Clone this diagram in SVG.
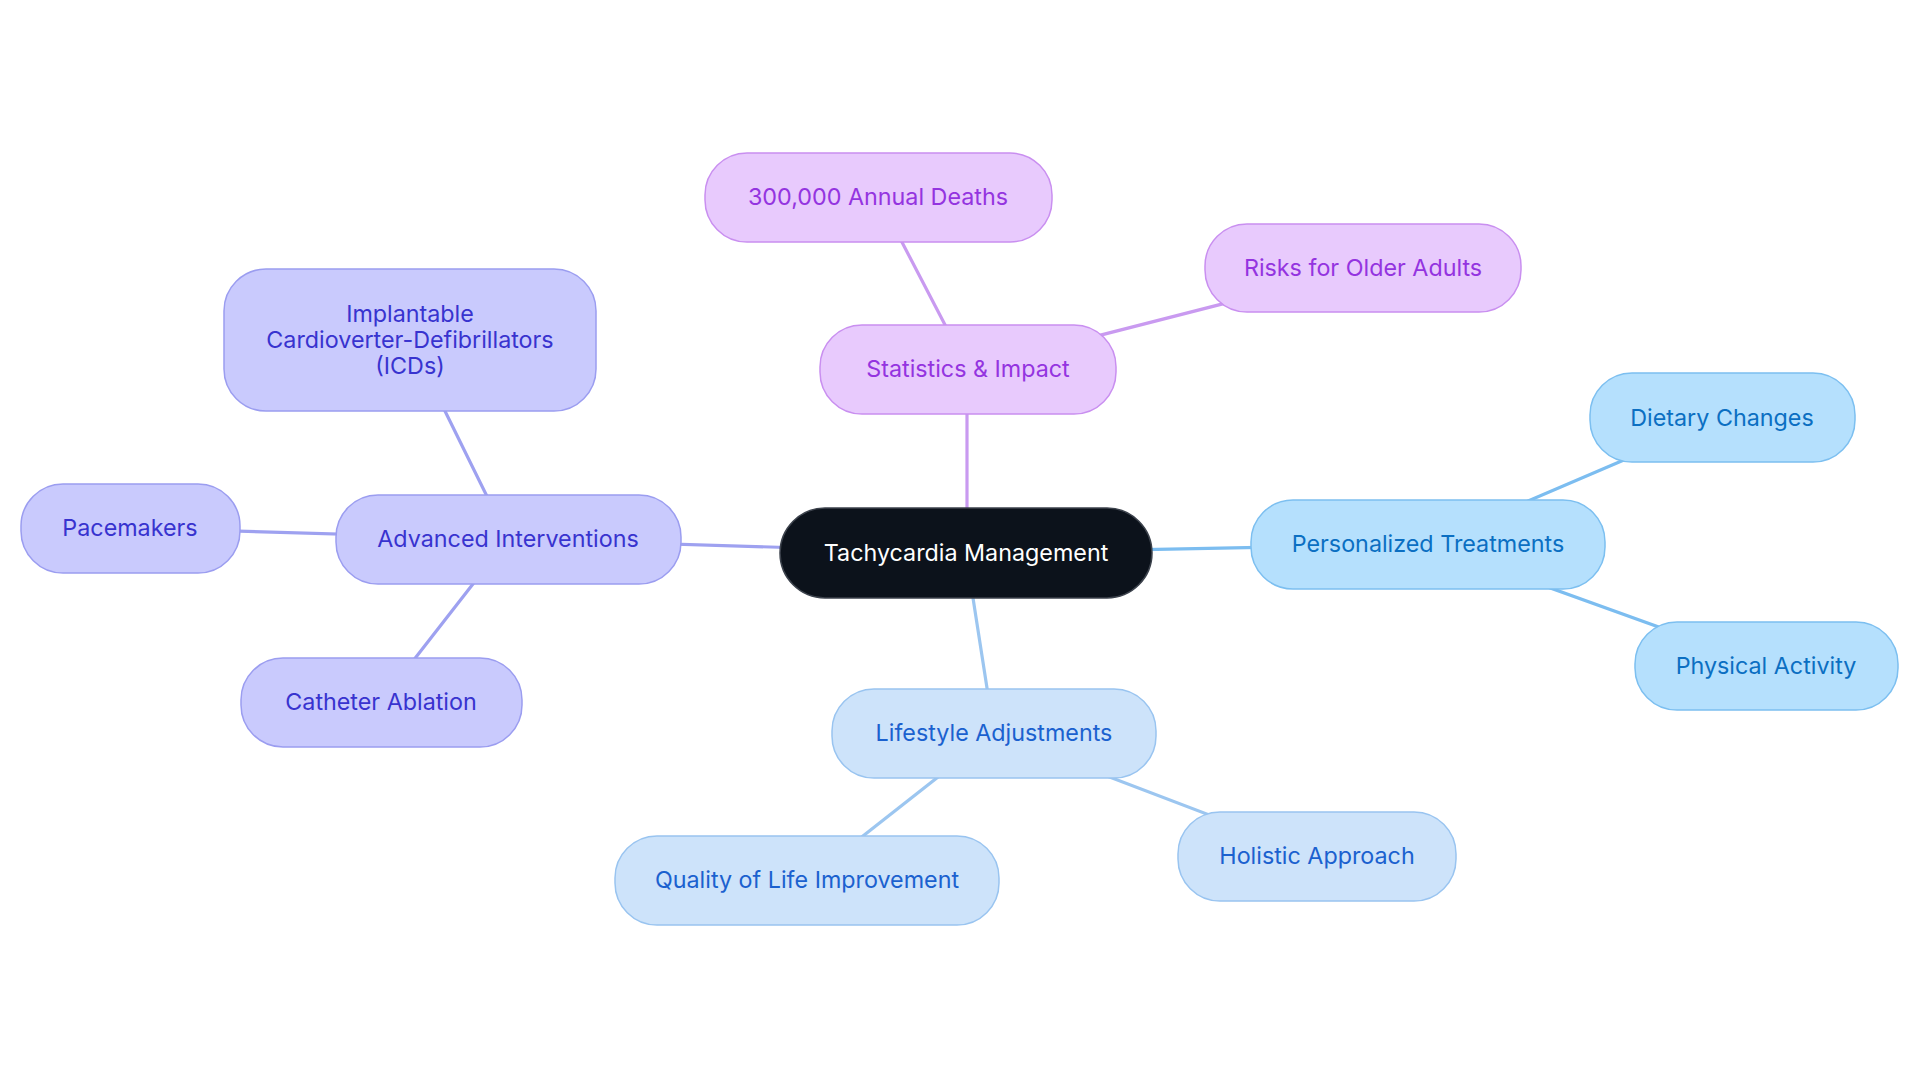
<svg xmlns="http://www.w3.org/2000/svg" width="1920" height="1083" viewBox="0 0 1920 1083">
<style>
text{font-family:Inter,"Noto Sans","Liberation Sans",sans-serif;font-size:23.3px;text-anchor:middle}
.root rect{fill:#0c121b;stroke:#3c424c;stroke-width:1.5}
.root text{fill:#ffffff}
.pur rect{fill:#e8cafd;stroke:#c98ff0;stroke-width:1.5}
.pur text{fill:#9434e0}
.ind rect{fill:#c9cafd;stroke:#9b9df0;stroke-width:1.5}
.ind text{fill:#3833cf}
.sky rect{fill:#b5e0fd;stroke:#7cbff0;stroke-width:1.5}
.sky text{fill:#0b6fc2}
.pal rect{fill:#cde3fa;stroke:#99c4f0;stroke-width:1.5}
.pal text{fill:#1b61cf}
#connectors line{stroke-width:3.2;stroke-linecap:round}
.cp{stroke:#c99af0}.ci{stroke:#9ea1f0}.cs{stroke:#7cbdf0}.cl{stroke:#9cc6f0}
</style>
<rect width="1920" height="1083" fill="#ffffff"/>
<g id="connectors">
<line class="cp" x1="967" y1="553" x2="967" y2="369"/>
<line class="cp" x1="968" y1="369" x2="879" y2="198"/>
<line class="cp" x1="968" y1="369" x2="1363" y2="268"/>
<line class="ci" x1="966" y1="553" x2="508" y2="539"/>
<line class="ci" x1="508" y1="539" x2="410" y2="340"/>
<line class="ci" x1="508" y1="539" x2="130" y2="528"/>
<line class="ci" x1="508" y1="539" x2="381" y2="702"/>
<line class="cs" x1="966" y1="553" x2="1428" y2="544"/>
<line class="cs" x1="1428" y1="544" x2="1722" y2="418"/>
<line class="cs" x1="1428" y1="544" x2="1767" y2="666"/>
<line class="cl" x1="966" y1="553" x2="994" y2="733"/>
<line class="cl" x1="994" y1="733" x2="807" y2="880"/>
<line class="cl" x1="994" y1="733" x2="1317" y2="856"/>
</g>
<g id="root" class="root"><rect x="780" y="508" width="372" height="90" rx="45"/><text x="966" y="561">Tachycardia Management</text></g>
<g id="stats" class="pur"><rect x="820" y="325" width="296" height="89" rx="42"/><text x="968" y="377">Statistics &amp; Impact</text></g>
<g id="deaths" class="pur"><rect x="705" y="153" width="347" height="89" rx="42"/><text x="878" y="205">300,000 Annual Deaths</text></g>
<g id="risks" class="pur"><rect x="1205" y="224" width="316" height="88" rx="42"/><text x="1363" y="276">Risks for Older Adults</text></g>
<g id="advanced" class="ind"><rect x="336" y="495" width="345" height="89" rx="42"/><text x="508" y="547">Advanced Interventions</text></g>
<g id="icds" class="ind"><rect x="224" y="269" width="372" height="142" rx="42"/><text x="410" y="322">Implantable</text><text x="410" y="348">Cardioverter-Defibrillators</text><text x="410" y="374">(ICDs)</text></g>
<g id="pacemakers" class="ind"><rect x="21" y="484" width="219" height="89" rx="42"/><text x="130" y="536">Pacemakers</text></g>
<g id="ablation" class="ind"><rect x="241" y="658" width="281" height="89" rx="42"/><text x="381" y="710">Catheter Ablation</text></g>
<g id="personalized" class="sky"><rect x="1251" y="500" width="354" height="89" rx="42"/><text x="1428" y="552">Personalized Treatments</text></g>
<g id="dietary" class="sky"><rect x="1590" y="373" width="265" height="89" rx="42"/><text x="1722" y="426">Dietary Changes</text></g>
<g id="physical" class="sky"><rect x="1635" y="622" width="263" height="88" rx="42"/><text x="1766" y="674">Physical Activity</text></g>
<g id="lifestyle" class="pal"><rect x="832" y="689" width="324" height="89" rx="42"/><text x="994" y="741">Lifestyle Adjustments</text></g>
<g id="quality" class="pal"><rect x="615" y="836" width="384" height="89" rx="42"/><text x="807" y="888">Quality of Life Improvement</text></g>
<g id="holistic" class="pal"><rect x="1178" y="812" width="278" height="89" rx="42"/><text x="1317" y="864">Holistic Approach</text></g>
</svg>
